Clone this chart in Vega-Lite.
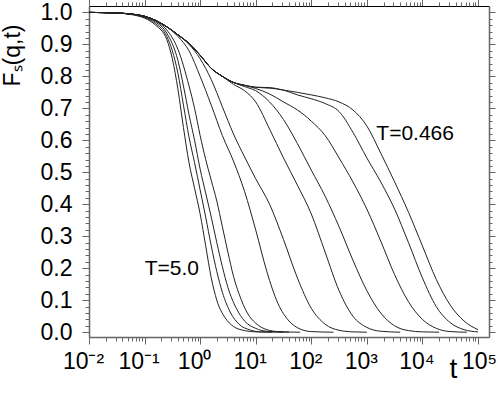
{
  "$schema": "https://vega.github.io/schema/vega-lite/v6.json",
  "width": 400,
  "height": 331,
  "autosize": {"type": "none"},
  "padding": {"left": 89, "top": 6, "right": 9, "bottom": 60},
  "config": {"view": {"stroke": null}, "font": "Liberation Sans"},
  "datasets": {
    "curves": [
      {"T":"5.0","t":0.01,"F":1},{"T":"5.0","t":0.0316,"F":0.998},{"T":"5.0","t":0.0631,"F":0.992},{"T":"5.0","t":0.1,"F":0.982},{"T":"5.0","t":0.158,"F":0.96},{"T":"5.0","t":0.251,"F":0.915},{"T":"5.0","t":0.316,"F":0.855},{"T":"5.0","t":0.398,"F":0.76},{"T":"5.0","t":0.501,"F":0.64},{"T":"5.0","t":0.631,"F":0.53},{"T":"5.0","t":0.794,"F":0.45},{"T":"5.0","t":1,"F":0.37},{"T":"5.0","t":1.259,"F":0.27},{"T":"5.0","t":1.585,"F":0.17},{"T":"5.0","t":1.995,"F":0.1},{"T":"5.0","t":2.818,"F":0.045},{"T":"5.0","t":3.981,"F":0.018},{"T":"5.0","t":6.31,"F":0.005},{"T":"5.0","t":10,"F":0.001},{"T":"5.0","t":19.95,"F":0},
      {"T":"4.0","t":0.01,"F":1},{"T":"4.0","t":0.0316,"F":0.998},{"T":"4.0","t":0.0631,"F":0.993},{"T":"4.0","t":0.1,"F":0.984},{"T":"4.0","t":0.158,"F":0.965},{"T":"4.0","t":0.251,"F":0.925},{"T":"4.0","t":0.316,"F":0.88},{"T":"4.0","t":0.398,"F":0.81},{"T":"4.0","t":0.501,"F":0.71},{"T":"4.0","t":0.631,"F":0.61},{"T":"4.0","t":0.794,"F":0.53},{"T":"4.0","t":1,"F":0.445},{"T":"4.0","t":1.259,"F":0.36},{"T":"4.0","t":1.585,"F":0.27},{"T":"4.0","t":1.995,"F":0.19},{"T":"4.0","t":2.512,"F":0.125},{"T":"4.0","t":3.548,"F":0.06},{"T":"4.0","t":5.012,"F":0.025},{"T":"4.0","t":7.943,"F":0.007},{"T":"4.0","t":12.59,"F":0.001},{"T":"4.0","t":31.62,"F":0},
      {"T":"3.0","t":0.01,"F":1},{"T":"3.0","t":0.0316,"F":0.998},{"T":"3.0","t":0.0631,"F":0.994},{"T":"3.0","t":0.1,"F":0.986},{"T":"3.0","t":0.158,"F":0.97},{"T":"3.0","t":0.251,"F":0.935},{"T":"3.0","t":0.398,"F":0.85},{"T":"3.0","t":0.501,"F":0.77},{"T":"3.0","t":0.631,"F":0.68},{"T":"3.0","t":0.794,"F":0.6},{"T":"3.0","t":1,"F":0.51},{"T":"3.0","t":1.259,"F":0.435},{"T":"3.0","t":1.585,"F":0.36},{"T":"3.0","t":1.995,"F":0.28},{"T":"3.0","t":2.512,"F":0.205},{"T":"3.0","t":3.162,"F":0.14},{"T":"3.0","t":4.467,"F":0.075},{"T":"3.0","t":6.31,"F":0.035},{"T":"3.0","t":10,"F":0.012},{"T":"3.0","t":15.85,"F":0.003},{"T":"3.0","t":39.81,"F":0},
      {"T":"2.0","t":0.01,"F":1},{"T":"2.0","t":0.0316,"F":0.998},{"T":"2.0","t":0.0631,"F":0.994},{"T":"2.0","t":0.1,"F":0.987},{"T":"2.0","t":0.158,"F":0.973},{"T":"2.0","t":0.251,"F":0.945},{"T":"2.0","t":0.398,"F":0.885},{"T":"2.0","t":0.631,"F":0.77},{"T":"2.0","t":0.794,"F":0.7},{"T":"2.0","t":1,"F":0.615},{"T":"2.0","t":1.259,"F":0.54},{"T":"2.0","t":1.585,"F":0.475},{"T":"2.0","t":1.995,"F":0.41},{"T":"2.0","t":2.512,"F":0.33},{"T":"2.0","t":3.162,"F":0.25},{"T":"2.0","t":3.981,"F":0.175},{"T":"2.0","t":5.012,"F":0.12},{"T":"2.0","t":7.079,"F":0.06},{"T":"2.0","t":10,"F":0.028},{"T":"2.0","t":15.85,"F":0.008},{"T":"2.0","t":25.12,"F":0.002},{"T":"2.0","t":63.1,"F":0},
      {"T":"1.0","t":0.01,"F":1},{"T":"1.0","t":0.0316,"F":0.998},{"T":"1.0","t":0.0631,"F":0.994},{"T":"1.0","t":0.1,"F":0.988},{"T":"1.0","t":0.158,"F":0.975},{"T":"1.0","t":0.251,"F":0.955},{"T":"1.0","t":0.398,"F":0.925},{"T":"1.0","t":0.631,"F":0.88},{"T":"1.0","t":1,"F":0.8},{"T":"1.0","t":1.585,"F":0.71},{"T":"1.0","t":2.512,"F":0.615},{"T":"1.0","t":3.981,"F":0.535},{"T":"1.0","t":6.31,"F":0.44},{"T":"1.0","t":10,"F":0.32},{"T":"1.0","t":15.85,"F":0.19},{"T":"1.0","t":25.12,"F":0.09},{"T":"1.0","t":39.81,"F":0.035},{"T":"1.0","t":63.1,"F":0.01},{"T":"1.0","t":100,"F":0.002},{"T":"1.0","t":251.2,"F":0},
      {"T":"0.8","t":0.01,"F":1},{"T":"0.8","t":0.0316,"F":0.998},{"T":"0.8","t":0.0631,"F":0.994},{"T":"0.8","t":0.1,"F":0.988},{"T":"0.8","t":0.158,"F":0.975},{"T":"0.8","t":0.251,"F":0.955},{"T":"0.8","t":0.398,"F":0.93},{"T":"0.8","t":0.631,"F":0.9},{"T":"0.8","t":1,"F":0.855},{"T":"0.8","t":1.585,"F":0.79},{"T":"0.8","t":2.512,"F":0.705},{"T":"0.8","t":3.981,"F":0.62},{"T":"0.8","t":6.31,"F":0.548},{"T":"0.8","t":10,"F":0.48},{"T":"0.8","t":17.78,"F":0.4},{"T":"0.8","t":31.62,"F":0.29},{"T":"0.8","t":56.23,"F":0.17},{"T":"0.8","t":100,"F":0.075},{"T":"0.8","t":177.8,"F":0.025},{"T":"0.8","t":316.2,"F":0.006},{"T":"0.8","t":562.3,"F":0.001},{"T":"0.8","t":1000,"F":0},
      {"T":"0.6","t":0.01,"F":1},{"T":"0.6","t":0.0316,"F":0.998},{"T":"0.6","t":0.0631,"F":0.994},{"T":"0.6","t":0.1,"F":0.988},{"T":"0.6","t":0.158,"F":0.975},{"T":"0.6","t":0.251,"F":0.955},{"T":"0.6","t":0.398,"F":0.93},{"T":"0.6","t":0.631,"F":0.903},{"T":"0.6","t":1,"F":0.866},{"T":"0.6","t":1.585,"F":0.825},{"T":"0.6","t":2.512,"F":0.8},{"T":"0.6","t":3.981,"F":0.775},{"T":"0.6","t":6.31,"F":0.755},{"T":"0.6","t":10,"F":0.72},{"T":"0.6","t":17.78,"F":0.635},{"T":"0.6","t":31.62,"F":0.545},{"T":"0.6","t":56.23,"F":0.46},{"T":"0.6","t":100,"F":0.37},{"T":"0.6","t":177.8,"F":0.25},{"T":"0.6","t":316.2,"F":0.13},{"T":"0.6","t":562.3,"F":0.05},{"T":"0.6","t":1000,"F":0.015},{"T":"0.6","t":1778,"F":0.003},{"T":"0.6","t":3981,"F":0},
      {"T":"0.55","t":0.01,"F":1},{"T":"0.55","t":0.0316,"F":0.998},{"T":"0.55","t":0.0631,"F":0.994},{"T":"0.55","t":0.1,"F":0.988},{"T":"0.55","t":0.158,"F":0.975},{"T":"0.55","t":0.251,"F":0.955},{"T":"0.55","t":0.398,"F":0.93},{"T":"0.55","t":0.631,"F":0.903},{"T":"0.55","t":1,"F":0.866},{"T":"0.55","t":1.585,"F":0.825},{"T":"0.55","t":2.512,"F":0.8},{"T":"0.55","t":3.981,"F":0.781},{"T":"0.55","t":6.31,"F":0.768},{"T":"0.55","t":10,"F":0.755},{"T":"0.55","t":17.78,"F":0.72},{"T":"0.55","t":31.62,"F":0.665},{"T":"0.55","t":56.23,"F":0.59},{"T":"0.55","t":100,"F":0.507},{"T":"0.55","t":177.8,"F":0.425},{"T":"0.55","t":316.2,"F":0.33},{"T":"0.55","t":562.3,"F":0.225},{"T":"0.55","t":1000,"F":0.13},{"T":"0.55","t":1778,"F":0.06},{"T":"0.55","t":3162,"F":0.02},{"T":"0.55","t":5623,"F":0.005},{"T":"0.55","t":10000,"F":0.001},{"T":"0.55","t":19953,"F":0},
      {"T":"0.5","t":0.01,"F":1},{"T":"0.5","t":0.0316,"F":0.998},{"T":"0.5","t":0.0631,"F":0.994},{"T":"0.5","t":0.1,"F":0.988},{"T":"0.5","t":0.158,"F":0.975},{"T":"0.5","t":0.251,"F":0.955},{"T":"0.5","t":0.398,"F":0.93},{"T":"0.5","t":0.631,"F":0.903},{"T":"0.5","t":1,"F":0.866},{"T":"0.5","t":1.585,"F":0.825},{"T":"0.5","t":2.512,"F":0.8},{"T":"0.5","t":3.981,"F":0.781},{"T":"0.5","t":6.31,"F":0.772},{"T":"0.5","t":10,"F":0.762},{"T":"0.5","t":17.78,"F":0.745},{"T":"0.5","t":31.62,"F":0.72},{"T":"0.5","t":56.23,"F":0.695},{"T":"0.5","t":100,"F":0.66},{"T":"0.5","t":177.8,"F":0.615},{"T":"0.5","t":316.2,"F":0.545},{"T":"0.5","t":562.3,"F":0.47},{"T":"0.5","t":1000,"F":0.385},{"T":"0.5","t":1778,"F":0.285},{"T":"0.5","t":3162,"F":0.18},{"T":"0.5","t":5623,"F":0.095},{"T":"0.5","t":10000,"F":0.04},{"T":"0.5","t":17783,"F":0.012},{"T":"0.5","t":31623,"F":0.002},{"T":"0.5","t":63096,"F":0},
      {"T":"0.475","t":0.01,"F":1},{"T":"0.475","t":0.0316,"F":0.998},{"T":"0.475","t":0.0631,"F":0.994},{"T":"0.475","t":0.1,"F":0.988},{"T":"0.475","t":0.158,"F":0.975},{"T":"0.475","t":0.251,"F":0.955},{"T":"0.475","t":0.398,"F":0.93},{"T":"0.475","t":0.631,"F":0.903},{"T":"0.475","t":1,"F":0.866},{"T":"0.475","t":1.585,"F":0.825},{"T":"0.475","t":2.512,"F":0.8},{"T":"0.475","t":3.981,"F":0.781},{"T":"0.475","t":6.31,"F":0.772},{"T":"0.475","t":10,"F":0.766},{"T":"0.475","t":17.78,"F":0.763},{"T":"0.475","t":31.62,"F":0.757},{"T":"0.475","t":56.23,"F":0.742},{"T":"0.475","t":100,"F":0.73},{"T":"0.475","t":177.8,"F":0.715},{"T":"0.475","t":316.2,"F":0.69},{"T":"0.475","t":562.3,"F":0.625},{"T":"0.475","t":1000,"F":0.545},{"T":"0.475","t":1778,"F":0.47},{"T":"0.475","t":3162,"F":0.385},{"T":"0.475","t":5623,"F":0.28},{"T":"0.475","t":10000,"F":0.17},{"T":"0.475","t":17783,"F":0.08},{"T":"0.475","t":31623,"F":0.03},{"T":"0.475","t":56234,"F":0.008},{"T":"0.475","t":100000,"F":0.001},
      {"T":"0.466","t":0.01,"F":1},{"T":"0.466","t":0.0316,"F":0.998},{"T":"0.466","t":0.0631,"F":0.994},{"T":"0.466","t":0.1,"F":0.988},{"T":"0.466","t":0.158,"F":0.975},{"T":"0.466","t":0.251,"F":0.955},{"T":"0.466","t":0.398,"F":0.93},{"T":"0.466","t":0.631,"F":0.903},{"T":"0.466","t":1,"F":0.866},{"T":"0.466","t":1.585,"F":0.825},{"T":"0.466","t":2.512,"F":0.8},{"T":"0.466","t":3.981,"F":0.781},{"T":"0.466","t":6.31,"F":0.772},{"T":"0.466","t":10,"F":0.766},{"T":"0.466","t":17.78,"F":0.765},{"T":"0.466","t":31.62,"F":0.757},{"T":"0.466","t":56.23,"F":0.75},{"T":"0.466","t":100,"F":0.742},{"T":"0.466","t":177.8,"F":0.733},{"T":"0.466","t":316.2,"F":0.72},{"T":"0.466","t":562.3,"F":0.695},{"T":"0.466","t":1000,"F":0.645},{"T":"0.466","t":1778,"F":0.56},{"T":"0.466","t":3162,"F":0.47},{"T":"0.466","t":5623,"F":0.375},{"T":"0.466","t":10000,"F":0.27},{"T":"0.466","t":17783,"F":0.165},{"T":"0.466","t":31623,"F":0.085},{"T":"0.466","t":56234,"F":0.035},{"T":"0.466","t":100000,"F":0.008}
    ],
    "labels": [
      {"t": 0.31, "F": 0.197, "label": "T=5.0"},
      {"t": 7400, "F": 0.62, "label": "T=0.466"}
    ]
  },
  "layer": [
    {
      "data": {"name": "curves"},
      "mark": {"type": "line", "color": "#222", "strokeWidth": 1, "interpolate": "monotone"},
      "encoding": {
        "x": {"field": "t", "type": "quantitative",
          "scale": {"type": "log", "domain": [0.01, 158000], "nice": false},
          "axis": {"orient": "bottom", "values": [0.01, 0.1, 1, 10, 100, 1000, 10000, 100000],
            "labelExpr": "['10⁻²','10⁻¹','10⁰','10¹','10²','10³','10⁴','10⁵'][round(log(datum.value)/LN10)+2]",
            "labelFont": "Liberation Sans", "labelFontSize": 23, "labelColor": "#000", "labelPadding": 6,
            "labelOffset": {"condition": {"test": "datum.value > 50000", "value": 1}, "value": -6},
            "labelFlush": false, "labelOverlap": false, "labelBound": false,
            "tickSize": 7, "tickColor": "#666", "tickWidth": 1, "domainColor": "#666", "domainWidth": 1.5, "grid": false,
            "title": "t", "titleX": 364, "titleY": 40, "titleFontSize": 28, "titleFontWeight": "normal", "titleFont": "Liberation Sans",
            "titleBaseline": "alphabetic", "titleAlign": "center", "titleColor": "#000"}},
        "y": {"field": "F", "type": "quantitative",
          "scale": {"domain": [-0.015, 1.02], "nice": false, "zero": false},
          "axis": {"orient": "left", "values": [0, 0.1, 0.2, 0.3, 0.4, 0.5, 0.6, 0.7, 0.8, 0.9, 1.0], "format": ".1f",
            "labelFont": "Liberation Sans", "labelFontSize": 23, "labelColor": "#000", "labelPadding": 10,
            "labelFlush": false, "labelOverlap": false, "labelBound": false,
            "tickSize": 7, "tickColor": "#666", "tickWidth": 1, "domainColor": "#666", "domainWidth": 1.5, "grid": false,
            "title": "Fₛ(q,t)", "titleX": -70, "titleY": 49, "titleAngle": 270, "titleFontSize": 23, "titleFontWeight": "normal",
            "titleFont": "Liberation Sans", "titleBaseline": "alphabetic", "titleAlign": "center", "titleColor": "#000"}},
        "detail": {"field": "T", "type": "nominal"}
      }
    },
    {
      "data": {"name": "curves"},
      "mark": {"type": "line", "strokeOpacity": 0},
      "encoding": {
        "x": {"field": "t", "type": "quantitative",
          "axis": {"orient": "bottom", "values": [0.02,0.03,0.04,0.05,0.06,0.07,0.08,0.09,0.2,0.3,0.4,0.5,0.6,0.7,0.8,0.9,2,3,4,5,6,7,8,9,20,30,40,50,60,70,80,90,200,300,400,500,600,700,800,900,2000,3000,4000,5000,6000,7000,8000,9000,20000,30000,40000,50000,60000,70000,80000,90000],
            "labels": false, "domain": false, "tickSize": 4, "tickColor": "#666", "tickWidth": 1, "grid": false, "title": null}},
        "y": {"field": "F", "type": "quantitative",
          "axis": {"orient": "left", "values": [0.02,0.04,0.06,0.08,0.12,0.14,0.16,0.18,0.22,0.24,0.26,0.28,0.32,0.34,0.36,0.38,0.42,0.44,0.46,0.48,0.52,0.54,0.56,0.58,0.62,0.64,0.66,0.68,0.72,0.74,0.76,0.78,0.82,0.84,0.86,0.88,0.92,0.94,0.96,0.98],
            "labels": false, "domain": false, "tickSize": 4, "tickColor": "#666", "tickWidth": 1, "grid": false, "title": null}},
        "detail": {"field": "T", "type": "nominal"}
      }
    },
    {
      "data": {"name": "curves"},
      "mark": {"type": "line", "strokeOpacity": 0},
      "encoding": {
        "x": {"field": "t", "type": "quantitative",
          "axis": {"orient": "top", "values": [0.01, 0.1, 1, 10, 100, 1000, 10000, 100000],
            "labels": false, "domain": true, "domainColor": "#000", "domainWidth": 1, "tickSize": 7, "tickColor": "#666", "tickWidth": 1, "grid": false, "title": null}},
        "y": {"field": "F", "type": "quantitative",
          "axis": {"orient": "right", "values": [0, 0.1, 0.2, 0.3, 0.4, 0.5, 0.6, 0.7, 0.8, 0.9, 1.0],
            "labels": false, "domain": true, "domainColor": "#666", "domainWidth": 1.5, "tickSize": 6, "tickColor": "#666", "tickWidth": 1, "grid": false, "title": null}},
        "detail": {"field": "T", "type": "nominal"}
      }
    },
    {
      "data": {"name": "curves"},
      "mark": {"type": "line", "strokeOpacity": 0},
      "encoding": {
        "x": {"field": "t", "type": "quantitative",
          "axis": {"orient": "top", "values": [0.02,0.03,0.04,0.05,0.06,0.07,0.08,0.09,0.2,0.3,0.4,0.5,0.6,0.7,0.8,0.9,2,3,4,5,6,7,8,9,20,30,40,50,60,70,80,90,200,300,400,500,600,700,800,900,2000,3000,4000,5000,6000,7000,8000,9000,20000,30000,40000,50000,60000,70000,80000,90000],
            "labels": false, "domain": false, "tickSize": 4, "tickColor": "#666", "tickWidth": 1, "grid": false, "title": null}},
        "y": {"field": "F", "type": "quantitative",
          "axis": {"orient": "right", "values": [0.02,0.04,0.06,0.08,0.12,0.14,0.16,0.18,0.22,0.24,0.26,0.28,0.32,0.34,0.36,0.38,0.42,0.44,0.46,0.48,0.52,0.54,0.56,0.58,0.62,0.64,0.66,0.68,0.72,0.74,0.76,0.78,0.82,0.84,0.86,0.88,0.92,0.94,0.96,0.98],
            "labels": false, "domain": false, "tickSize": 3, "tickColor": "#666", "tickWidth": 1, "grid": false, "title": null}},
        "detail": {"field": "T", "type": "nominal"}
      }
    },
    {
      "data": {"name": "labels"},
      "mark": {"type": "text", "font": "Liberation Sans", "fontSize": 21, "color": "#000", "align": "center", "baseline": "middle"},
      "encoding": {
        "x": {"field": "t", "type": "quantitative", "axis": null},
        "y": {"field": "F", "type": "quantitative", "axis": null},
        "text": {"field": "label"}
      }
    }
  ],
  "resolve": {"axis": {"x": "independent", "y": "independent"}}
}
